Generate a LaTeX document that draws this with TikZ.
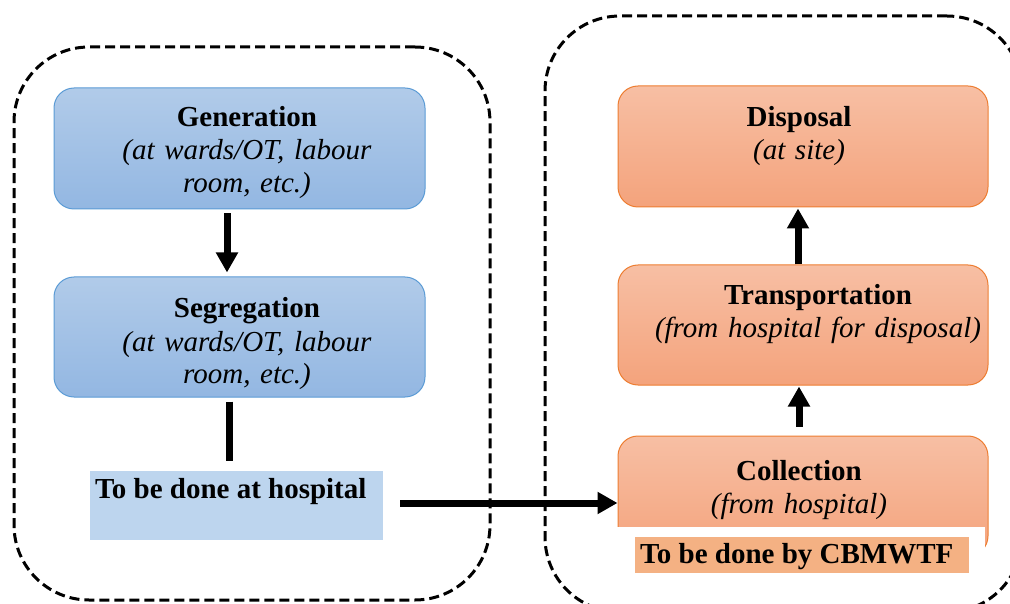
\documentclass[tikz,border=0pt]{standalone}
\usepackage{fontspec}
\setmainfont{Liberation Serif}
\usetikzlibrary{arrows.meta}
\definecolor{bluetop}{HTML}{B1CBE9}
\definecolor{bluebot}{HTML}{93B7E2}
\definecolor{blueedge}{HTML}{5B9BD5}
\definecolor{orgtop}{HTML}{F7BFA4}
\definecolor{orgbot}{HTML}{F4A37C}
\definecolor{orgedge}{HTML}{ED7D31}
\definecolor{bluelabel}{HTML}{BDD5EE}
\definecolor{orglabel}{HTML}{F4B183}
\begin{document}
\begin{tikzpicture}[x=1pt,y=-1pt,
  dashbox/.style={draw=black, line width=3pt, dash pattern=on 10pt off 5pt, rounded corners=75pt, minimum width=#1},
  bluebox/.style={draw=blueedge, line width=1pt, top color=bluetop, bottom color=bluebot, rounded corners=20pt, inner sep=0pt},
  orgbox/.style={draw=orgedge, line width=1pt, top color=orgtop, bottom color=orgbot, rounded corners=20pt, inner sep=0pt},
  boxtext/.style={text width=380pt, align=center, inner sep=0pt, font=\fontsize{29}{33}\selectfont},
  labeltext/.style={font=\fontsize{29}{33}\selectfont\bfseries, inner sep=0pt},
  flow/.style={line width=7pt, -{Triangle[width=21pt,length=20pt]}},
  bar/.style={line width=7pt}
]
\useasboundingbox (0,0) rectangle (1010,604);

% dashed group frames
\node[dashbox=476pt, minimum height=553pt, inner sep=0pt] (hospital) at (252,323.5) {};
\node[dashbox=477pt, minimum height=596pt, inner sep=0pt] (cbmwtf) at (783.5,314) {};

% blue boxes
\node[bluebox, minimum width=371pt, minimum height=121pt] (gen) at (239.5,148.5) {};
\node[boxtext, anchor=base] (gentext) at (247,127) {\textbf{Generation}\\\textit{(at wards/OT, labour}\\\textit{room, etc.)}};
\node[bluebox, minimum width=371pt, minimum height=120pt] (seg) at (239.5,337) {};
\node[boxtext, anchor=base] (segtext) at (247,318) {\textbf{Segregation}\\\textit{(at wards/OT, labour}\\\textit{room, etc.)}};

% orange boxes
\node[orgbox, minimum width=370pt, minimum height=121pt] (disp) at (803,146.5) {};
\node[boxtext, anchor=base] (disptext) at (799,127) {\textbf{Disposal}\\\textit{(at site)}};
\node[orgbox, minimum width=370pt, minimum height=120pt] (trans) at (803,325) {};
\node[boxtext, anchor=base] (transtext) at (818,305) {\textbf{Transportation}\\\textit{(from hospital for disposal)}};
\node[orgbox, minimum width=370pt, minimum height=120pt] (coll) at (803,496) {};
\node[boxtext, anchor=base] (colltext) at (799,480) {\textbf{Collection}\\\textit{(from hospital)}};

% white cover and labels
\node[fill=white, minimum width=373pt, minimum height=55pt, inner sep=0pt] (cover) at (798.5,554.5) {};
\node[fill=orglabel, minimum width=334pt, minimum height=36pt, inner sep=0pt] (cbmlabel) at (802,555) {};
\node[labeltext, anchor=base west] (cbmtext) at (640,563) {To be done by CBMWTF};
\node[fill=bluelabel, minimum width=293pt, minimum height=69pt, inner sep=0pt] (hosplabel) at (236.5,505.5) {};
\node[labeltext, anchor=base west] (hosptext) at (95,498) {To be done at hospital};

% connectors
\draw[flow, shorten <=4pt, shorten >=4pt] (gen.south -| 227,0) -- (seg.north -| 227,0);
\draw[bar, shorten <=4pt, shorten >=10pt] (seg.south -| 229,0) -- (hosplabel.north -| 229,0);
\draw[flow, shorten <=17pt] ([yshift=2.5pt]hosplabel.east) -- ([yshift=2.5pt]hosplabel.east -| coll.west);
\draw[flow, shorten <=9pt, shorten >=1pt] (coll.north -| 799,0) -- (trans.south -| 799,0);
\draw[flow, shorten >=1pt] (trans.north -| 798,0) -- (disp.south -| 798,0);
\end{tikzpicture}
\end{document}
